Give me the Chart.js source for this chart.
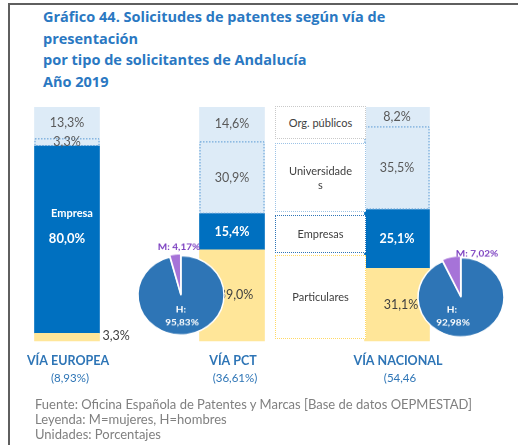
<!DOCTYPE html>
<html lang="es">
<head>
<meta charset="utf-8">
<title>Gráfico 44</title>
<script src="https://cdn.jsdelivr.net/npm/chart.js@4.4.1/dist/chart.umd.min.js"></script>
<style>
  html, body { margin: 0; padding: 0; background: #fff; }
  body { width: 518px; height: 445px; position: relative; overflow: hidden; font-family: Lato, "Open Sans", sans-serif; }
  .frame { position: absolute; left: 8px; top: 3px; right: -5px; bottom: -5px; border-left: 2px solid #5f5f5f; border-top: 2px solid #5f5f5f; }
  .title { position: absolute; left: 43px; top: 6px; color: #2a78c2; font-family: "Open Sans", sans-serif; font-weight: 700; font-size: 14.5px; line-height: 21.7px; }
  #bars { position: absolute; left: 0; top: 0; }
  .key { position: absolute; left: 275px; width: 91px; box-sizing: border-box; background: #fff; display: flex; align-items: center; justify-content: center; text-align: center; font-size: 11px; color: #404040; line-height: 14px; white-space: pre; }
  .pie { position: absolute; transform: scaleY(0.92); }
  .note { position: absolute; left: 35px; top: 397px; color: #808080; font-size: 13px; line-height: 15px; }
</style>
</head>
<body>
<div class="frame"></div>
<div class="title">Gráfico 44. Solicitudes de patentes según vía de<br>presentación<br>por tipo de solicitantes de Andalucía<br>Año 2019</div>
<canvas id="bars" width="518" height="445"></canvas>
<div id="keys"></div>
<canvas id="pie1" class="pie" width="120" height="130"></canvas>
<canvas id="pie2" class="pie" width="120" height="130"></canvas>
<div class="note">Fuente: Oficina Española de Patentes y Marcas [Base de datos OEPMESTAD]<br>Leyenda: M=mujeres, H=hombres<br>Unidades: Porcentajes</div>

<script>
const categories = ["VÍA EUROPEA", "VÍA PCT", "VÍA NACIONAL"];
const categoryShares = ["(8,93%)", "(36,61%)", "(54,46"];
const seriesNames = ["Particulares", "Empresas", "Universidades", "Org. públicos"];
const particulares = [3.3, 39.0, 31.1];
const empresas = [80.0, 15.4, 25.1];
const universidades = [3.3, 30.9, 35.5];
const orgPublicos = [13.3, 14.6, 8.2];
const keyLabels = ["Org. públicos", "Universidade\ns", "Empresas", "Particulares"];
const pieLabels = ["H", "M"];
const pieLeft = [95.83, 4.17];
const pieRight = [92.98, 7.02];

const pct = v => v.toFixed(1).replace(".", ",") + "%";
const pct2 = v => v.toFixed(2).replace(".", ",") + "%";

// text on the stacked blocks, dotted frame round the university blocks, route names
const barText = {
  id: "barText",
  afterDatasetsDraw(chart) {
    const ctx = chart.ctx;
    ctx.save();
    ctx.setLineDash([1.5, 1.5]);
    ctx.strokeStyle = "#5b9bd5";
    ctx.lineWidth = 1;
    chart.getDatasetMeta(2).data.forEach(bar => {
      const p = bar.getProps(["x", "y", "base", "width"], true);
      ctx.strokeRect(p.x - p.width / 2 + 0.5, p.y + 0.5, p.width - 1, p.base - p.y - 1);
    });
    ctx.setLineDash([]);
    ctx.textAlign = "center";
    ctx.textBaseline = "middle";
    chart.data.datasets.forEach((ds, di) => {
      chart.getDatasetMeta(di).data.forEach((bar, i) => {
        const p = bar.getProps(["x", "y", "base", "width"], true);
        const mid = (p.y + p.base) / 2;
        const txt = pct(ds.data[i]);
        if (di === 0) {
          ctx.fillStyle = "#404040";
          ctx.font = "12.5px Lato";
          if (i === 0) {
            ctx.textAlign = "left";
            ctx.fillText(txt, p.x + p.width / 2 + 3, mid - 1);
            ctx.textAlign = "center";
          } else {
            ctx.fillText(txt, p.x + 4, mid);
          }
        } else if (di === 1) {
          ctx.fillStyle = "#fff";
          if (i === 0) {
            ctx.font = "bold 11px Lato";
            ctx.fillText("Empresa", p.x + 5, mid - 26);
            ctx.font = "bold 13px Lato";
            ctx.fillText(txt, p.x, mid - 1);
          } else {
            ctx.font = "bold 12.5px Lato";
            ctx.fillText(txt, p.x, mid);
          }
        } else {
          ctx.fillStyle = "#595959";
          ctx.font = "12.5px Lato";
          ctx.fillText(txt, p.x, mid);
        }
      });
    });
    const xs = chart.scales.x;
    ctx.fillStyle = "#2e75b6";
    categories.forEach((c, i) => {
      const x = xs.getPixelForValue(i);
      ctx.font = "bold 12.5px Lato";
      ctx.fillText(c, x + 1, 361);
      ctx.font = "11.5px Lato";
      ctx.fillText(categoryShares[i], x + 3, 378);
    });
    ctx.restore();
  }
};

new Chart(document.getElementById("bars"), {
  type: "bar",
  data: {
    labels: categories,
    datasets: [
      { label: seriesNames[0], data: particulares, backgroundColor: "#ffe699" },
      { label: seriesNames[1], data: empresas, backgroundColor: "#0070c0" },
      { label: seriesNames[2], data: universidades, backgroundColor: "#ddebf7" },
      { label: seriesNames[3], data: orgPublicos, backgroundColor: "#ddebf7" }
    ].map(d => Object.assign(d, { barThickness: 65, borderWidth: 0, clip: false }))
  },
  options: {
    responsive: false,
    animation: false,
    events: [],
    layout: { padding: { left: 67, right: 121, top: 107, bottom: 104 } },
    scales: {
      x: { stacked: true, offset: false, display: false },
      y: { stacked: true, min: 0, max: 100, display: false }
    },
    plugins: { legend: { display: false }, tooltip: { enabled: false } }
  },
  plugins: [barText]
});

// key boxes between the PCT and national bars
const keyBoxes = [
  { top: 106, height: 33, border: "#c9c9c9" },
  { top: 143, height: 69, border: "#9dc3e6" },
  { top: 215, height: 38, border: "#2e75b6" },
  { top: 255, height: 84, border: "#ffd966" }
];
const keys = document.getElementById("keys");
keyBoxes.forEach((b, i) => {
  const d = document.createElement("div");
  d.className = "key";
  d.style.top = b.top + "px";
  d.style.height = b.height + "px";
  d.style.border = "1px dotted " + b.border;
  d.textContent = keyLabels[i];
  keys.appendChild(d);
});

// gender pies
const pieText = {
  id: "pieText",
  afterDatasetsDraw(chart, args, opts) {
    const ctx = chart.ctx;
    const arc = chart.getDatasetMeta(0).data[0];
    const vals = chart.data.datasets[0].data;
    ctx.save();
    ctx.textAlign = "center";
    ctx.textBaseline = "middle";
    ctx.font = "bold 10px Lato";
    ctx.fillStyle = "#7b3fc0";
    ctx.fillText(pieLabels[1] + ": " + pct2(vals[1]), arc.x + opts.mx, arc.y + opts.my);
    ctx.fillStyle = "#fff";
    ctx.fillText(pieLabels[0] + ":", arc.x + opts.hx, arc.y + opts.hy);
    ctx.fillText(pct2(vals[0]), arc.x + opts.hx + 1, arc.y + opts.hy + 13.5);
    ctx.restore();
  }
};

function drawPie(id, values, cx, cy, text) {
  const el = document.getElementById(id);
  el.style.left = (cx - 60) + "px";
  el.style.top = (cy - 74.25) + "px";
  el.style.transformOrigin = "60px 74.25px";
  new Chart(el, {
    type: "pie",
    data: {
      labels: pieLabels,
      datasets: [{
        data: values,
        backgroundColor: ["#2e75b6", "#a673d8"],
        borderColor: "#fff",
        borderWidth: 1.5,
        hoverBorderWidth: 1.5,
        offset: [0, 5],
        hoverOffset: 0
      }]
    },
    options: {
      responsive: false,
      animation: false,
      events: [],
      layout: { padding: { top: 28, bottom: 9.5, left: 13.75, right: 13.75 } },
      plugins: { legend: { display: false }, tooltip: { enabled: false }, pieText: text }
    },
    plugins: [pieText]
  });
}

drawPie("pie1", pieLeft, 181, 295, { mx: -2, my: -52, hx: 0, hy: 16 });
drawPie("pie2", pieRight, 461, 297, { mx: 16, my: -47, hx: -9, hy: 14 });
</script>
</body>
</html>
